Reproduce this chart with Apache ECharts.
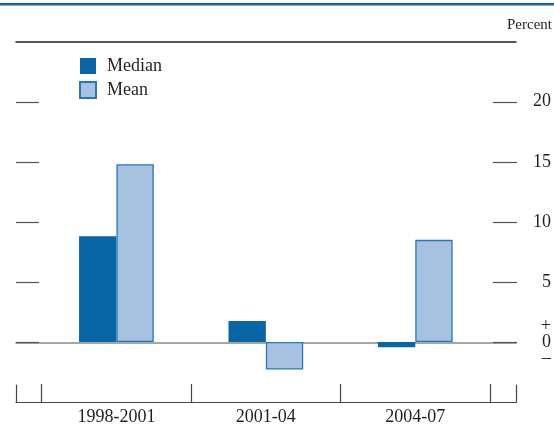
<!DOCTYPE html>
<html>
<head>
<meta charset="utf-8">
<script src="https://cdn.jsdelivr.net/npm/echarts@6/dist/echarts.min.js"></script>
<style>
html,body{margin:0;padding:0;background:#fff;}
#chart{width:554px;height:426px;}
</style>
</head>
<body>
<div id="chart"></div>
<script>
const categories = ['1998-2001', '2001-04', '2004-07'];
const medianValues = [8.8, 1.75, -0.45];
const meanValues = [14.8, -2.3, 8.5];
const yTickValues = [0, 5, 10, 15, 20];
const unitLabel = 'Percent';

const FONT = '"Liberation Serif", "Times New Roman", serif';
const TXT = '#231f20';
const TOP = 41.7, BOTTOM = 23.3;

const chart = echarts.init(document.getElementById('chart'), null, {renderer: 'canvas'});
chart.setOption({
  animation: false,
  backgroundColor: '#fff',
  title: {
    text: unitLabel, right: 2, top: 18, padding: 0,
    textStyle: {fontFamily: FONT, fontSize: 15, fontWeight: 'normal', color: TXT}
  },
  graphic: [{
    type: 'line', shape: {x1: 0, y1: 4.2, x2: 554, y2: 4.2},
    style: {stroke: '#1b64a2', lineWidth: 2.6}, silent: true
  }],
  legend: {
    orient: 'vertical', left: 79, top: 57, padding: 0,
    itemWidth: 16, itemHeight: 16, itemGap: 6, icon: 'rect',
    textStyle: {fontFamily: FONT, fontSize: 18, color: TXT, padding: [0, 0, 0, 6]},
    data: ['Median', 'Mean']
  },
  grid: [
    {left: 41.7, right: 64, top: TOP, bottom: BOTTOM},
    {left: 16, right: 38, top: TOP, bottom: BOTTOM}
  ],
  xAxis: [
    {
      gridIndex: 0, type: 'category', data: categories,
      axisLine: {show: true, onZero: false, lineStyle: {color: '#444', width: 1.2}},
      axisTick: {show: true, inside: true, length: 18, lineStyle: {color: '#444', width: 1.2}},
      axisLabel: {fontFamily: FONT, fontSize: 18, color: TXT, margin: 6},
      splitLine: {show: false}
    },
    {
      gridIndex: 1, type: 'value', min: 0, max: 1, interval: 1, position: 'bottom',
      axisLine: {show: true, onZero: false, lineStyle: {color: '#444', width: 1.2}},
      axisTick: {show: true, inside: true, length: 18, lineStyle: {color: '#444', width: 1.2}},
      axisLabel: {show: false}, splitLine: {show: false}
    },
    {
      gridIndex: 1, type: 'value', min: 0, max: 1, interval: 1, position: 'top',
      axisLine: {show: true, onZero: false, lineStyle: {color: '#231f20', width: 1.5}},
      axisTick: {show: false}, axisLabel: {show: false}, splitLine: {show: false}
    },
    {
      gridIndex: 1, type: 'value', min: 0, max: 1, interval: 1, position: 'bottom',
      axisLine: {show: true, onZero: true, lineStyle: {color: '#8a8a8a', width: 1.6}},
      axisTick: {show: false}, axisLabel: {show: false}, splitLine: {show: false}
    }
  ],
  yAxis: [
    {
      gridIndex: 0, type: 'value', min: -5, max: 25, interval: 5, position: 'right', offset: 3,
      axisLine: {show: false},
      axisTick: {show: true, length: 24, customValues: yTickValues, lineStyle: {color: '#555', width: 1.2}},
      axisLabel: {
        show: true, customValues: yTickValues, align: 'right', margin: 58,
        fontFamily: FONT, fontSize: 18, color: TXT, lineHeight: 16,
        formatter: v => v === 0 ? '+\n0\n\u2013' : String(v)
      },
      splitLine: {show: false}
    },
    {
      gridIndex: 0, type: 'value', min: -5, max: 25, interval: 5, position: 'left', offset: 2.7,
      axisLine: {show: false},
      axisTick: {show: true, length: 23, customValues: yTickValues, lineStyle: {color: '#555', width: 1.2}},
      axisLabel: {show: false}, splitLine: {show: false}
    },
    {
      gridIndex: 1, type: 'value', min: -5, max: 25, interval: 5, show: false
    }
  ],
  series: [
    {
      name: 'Median', type: 'bar', xAxisIndex: 0, yAxisIndex: 0,
      data: medianValues, barWidth: '25%', barGap: '0%',
      itemStyle: {color: '#0866a5'}
    },
    {
      name: 'Mean', type: 'bar', xAxisIndex: 0, yAxisIndex: 0,
      data: meanValues, barWidth: '25%', barGap: '0%',
      itemStyle: {color: '#a7c1e0', borderColor: '#2677bb', borderWidth: 1.3}
    }
  ]
});
</script>
</body>
</html>
